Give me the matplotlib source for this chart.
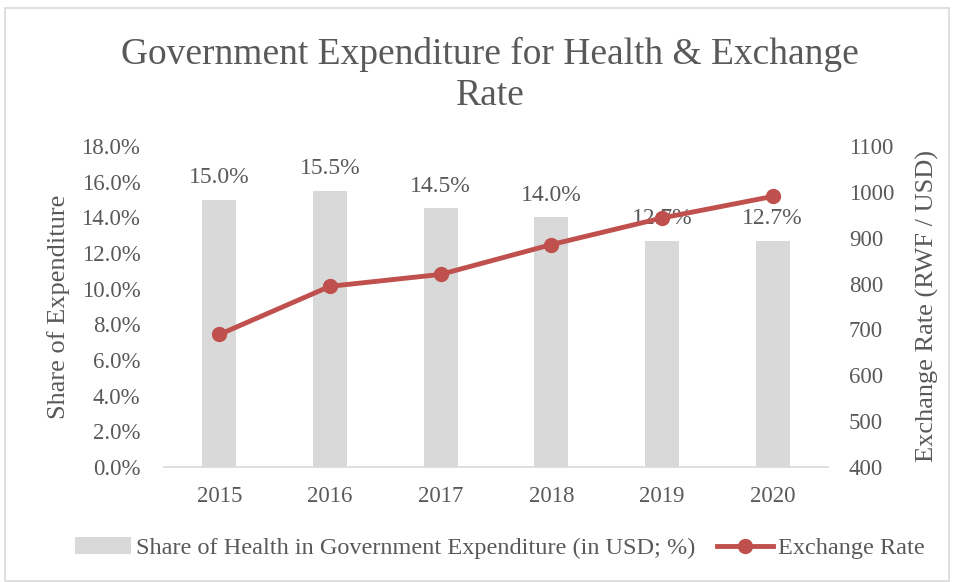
import matplotlib
matplotlib.use('Agg')
import matplotlib.pyplot as plt
from matplotlib.patches import Rectangle
from matplotlib.ticker import FuncFormatter

years = ['2015', '2016', '2017', '2018', '2019', '2020']
health_share = [15.0, 15.5, 14.5, 14.0, 12.7, 12.7]
exchange_rate = [689, 794, 820, 885, 943, 990]

text_col = '#595959'
bar_col = '#D9D9D9'
line_col = '#C0504D'

plt.rcParams['font.family'] = ['Liberation Serif', 'DejaVu Serif']

fig = plt.figure(figsize=(9.54, 5.82), dpi=100)
ax = fig.add_axes([164/954, 1-467/582, (828-164)/954, (467-146)/582])

x = list(range(len(years)))
bars = ax.bar(x, health_share, width=0.31, color=bar_col, zorder=1,
              label='Share of Health in Government Expenditure (in USD; %)')
for xi, v in zip(x, health_share):
    ax.annotate('%.1f%%' % v, (xi, v), xytext=(0, 8), textcoords='offset points',
                ha='center', va='bottom', fontsize=17, color=text_col, zorder=5)

ax.set_xlim(-0.5, 5.5)
ax.set_ylim(0, 18)
ax.set_yticks([i * 2 for i in range(10)])
ax.yaxis.set_major_formatter(FuncFormatter(lambda v, p: '%.1f%%' % v))
ax.set_xticks(x)
ax.set_xticklabels(years)
for s in ['top', 'left', 'right']:
    ax.spines[s].set_visible(False)
ax.spines['bottom'].set_color('#D9D9D9')
ax.spines['bottom'].set_linewidth(1.2)
ax.tick_params(axis='both', length=0, labelsize=16.5, labelcolor=text_col)
ax.tick_params(axis='y', pad=17)
ax.tick_params(axis='x', pad=14)
ax.set_ylabel('Share of Expenditure', fontsize=19, color=text_col)
ax.yaxis.set_label_coords(-0.141, 0.5)

# exchange rate on the secondary axis, drawn over the bars and labels
ax2 = ax.twinx()
line, = ax2.plot(x, exchange_rate, color=line_col, lw=3.5, marker='o', ms=10,
                 zorder=3, label='Exchange Rate')
ax2.set_ylim(400, 1100)
ax2.set_yticks(range(400, 1101, 100))
for s in ['top', 'left', 'right', 'bottom']:
    ax2.spines[s].set_visible(False)
ax2.tick_params(axis='y', length=0, labelsize=16.5, labelcolor=text_col, pad=15)
ax2.set_ylabel('Exchange Rate (RWF / USD)', fontsize=19, color=text_col)
ax2.yaxis.set_label_coords(1.133, 0.5)

fig.suptitle('Government Expenditure for Health & Exchange\nRate', x=0.514, y=0.937,
             fontsize=27, color=text_col, linespacing=1.25)

fig.legend([bars, line], [bars.get_label(), line.get_label()], loc='center',
           bbox_to_anchor=(0.524, 1-548/582), ncol=2, frameon=False, fontsize=17.5,
           labelcolor=text_col, handlelength=2.3, handletextpad=0.2, columnspacing=0.9)

fig.patches.append(Rectangle((5/954, 0.002), 1-10/954, 1-9/582, transform=fig.transFigure,
                             fill=False, edgecolor='#D9D9D9', lw=1.2))

fig.savefig('out.png', dpi=100)
